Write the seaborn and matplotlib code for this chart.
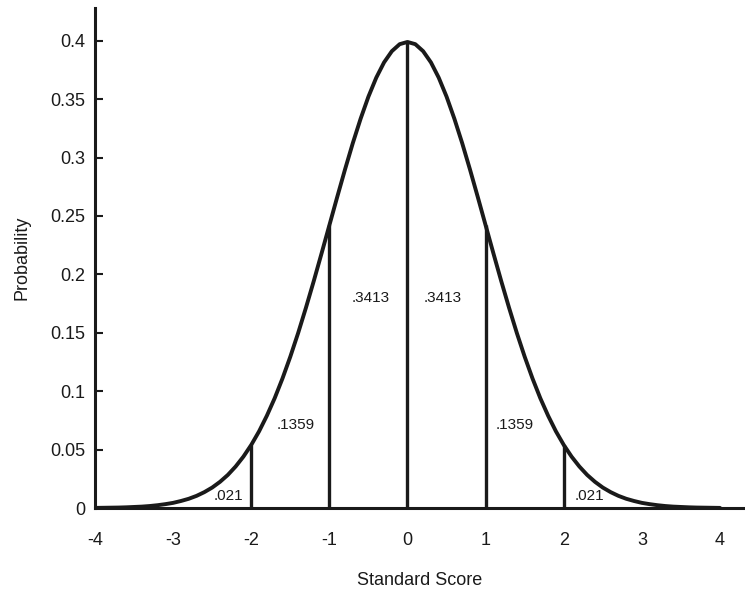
import numpy as np
import pandas as pd
import matplotlib
matplotlib.use("Agg")
import matplotlib.pyplot as plt
import seaborn as sns

# standard score and the curve height
z_scores = [-4.0, -3.9, -3.8, -3.7, -3.6, -3.5, -3.4, -3.3, -3.2, -3.1,
            -3.0, -2.9, -2.8, -2.7, -2.6, -2.5, -2.4, -2.3, -2.2, -2.1,
            -2.0, -1.9, -1.8, -1.7, -1.6, -1.5, -1.4, -1.3, -1.2, -1.1,
            -1.0, -0.9, -0.8, -0.7, -0.6, -0.5, -0.4, -0.3, -0.2, -0.1,
            0.0,
            0.1, 0.2, 0.3, 0.4, 0.5, 0.6, 0.7, 0.8, 0.9, 1.0,
            1.1, 1.2, 1.3, 1.4, 1.5, 1.6, 1.7, 1.8, 1.9, 2.0,
            2.1, 2.2, 2.3, 2.4, 2.5, 2.6, 2.7, 2.8, 2.9, 3.0,
            3.1, 3.2, 3.3, 3.4, 3.5, 3.6, 3.7, 3.8, 3.9, 4.0]
probability = [0.0001, 0.0002, 0.0003, 0.0004, 0.0006, 0.0009, 0.0012, 0.0017, 0.0024, 0.0033,
               0.0044, 0.0060, 0.0079, 0.0104, 0.0136, 0.0175, 0.0224, 0.0283, 0.0355, 0.0440,
               0.0540, 0.0656, 0.0790, 0.0940, 0.1109, 0.1295, 0.1497, 0.1714, 0.1942, 0.2179,
               0.2420, 0.2661, 0.2897, 0.3123, 0.3332, 0.3521, 0.3683, 0.3814, 0.3910, 0.3970,
               0.3989,
               0.3970, 0.3910, 0.3814, 0.3683, 0.3521, 0.3332, 0.3123, 0.2897, 0.2661, 0.2420,
               0.2179, 0.1942, 0.1714, 0.1497, 0.1295, 0.1109, 0.0940, 0.0790, 0.0656, 0.0540,
               0.0440, 0.0355, 0.0283, 0.0224, 0.0175, 0.0136, 0.0104, 0.0079, 0.0060, 0.0044,
               0.0033, 0.0024, 0.0017, 0.0012, 0.0009, 0.0006, 0.0004, 0.0003, 0.0002, 0.0001]

divider_z = [-2.0, -1.0, 0.0, 1.0, 2.0]
area_labels = [".021", ".1359", ".3413", ".3413", ".1359", ".021"]
label_x = [-2.29, -1.43, -0.47, 0.45, 1.37, 2.33]
label_y = [0.0103, 0.071, 0.18, 0.18, 0.071, 0.0103]

df = pd.DataFrame({"z": z_scores, "p": probability})

sns.set_style("white")
plt.rcParams["font.family"] = ["Liberation Sans", "DejaVu Sans"]

fig = plt.figure(figsize=(7.45, 5.89), dpi=100)
ax = fig.add_axes([0.1275, 0.1375, 0.8725, 0.849])

sns.lineplot(data=df, x="z", y="p", color="#1a1a1a", linewidth=2.8, ax=ax)

heights = [probability[z_scores.index(z)] for z in divider_z]
ax.vlines(divider_z, 0, heights, color="#1a1a1a", linewidth=2.4)

for txt, lx, ly in zip(area_labels, label_x, label_y):
    ax.text(lx, ly, txt, ha="center", va="center", fontsize=11, color="#1a1a1a")

ax.set_xlim(-4, 4.32)
ax.set_ylim(0, 0.428)
ax.set_xticks([-4, -3, -2, -1, 0, 1, 2, 3, 4])
ax.set_xticklabels(["-4", "-3", "-2", "-1", "0", "1", "2", "3", "4"])
ax.set_yticks([0, 0.05, 0.1, 0.15, 0.2, 0.25, 0.3, 0.35, 0.4])
ax.set_yticklabels(["0", "0.05", "0.1", "0.15", "0.2", "0.25", "0.3", "0.35", "0.4"])

ax.tick_params(axis="x", length=0, pad=17, labelsize=13, colors="#1a1a1a")
ax.tick_params(axis="y", direction="in", length=6, width=1.5, pad=7,
               labelsize=13, colors="#1a1a1a", left=True)

for side in ["top", "right"]:
    ax.spines[side].set_visible(False)
for side in ["left", "bottom"]:
    ax.spines[side].set_color("#1a1a1a")
    ax.spines[side].set_linewidth(2.2)

ax.set_xlabel("Standard Score", fontsize=13, labelpad=17, color="#1a1a1a")
ax.set_ylabel("Probability", fontsize=13, labelpad=14, color="#1a1a1a")

fig.savefig("out.png", dpi=100)
